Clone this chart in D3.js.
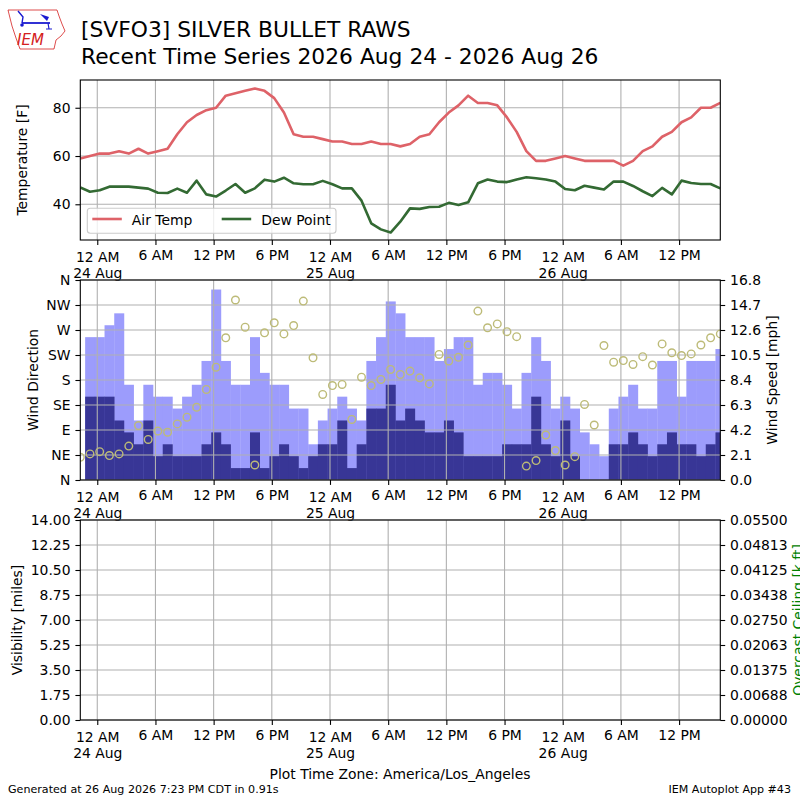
<!DOCTYPE html>
<html>
<head>
<meta charset="utf-8">
<script src="https://cdn.jsdelivr.net/npm/d3@7"></script>
<style>
  body { margin: 0; background: #fff; }
  svg { display: block; }
  text { font-family: "DejaVu Sans", sans-serif; }
</style>
</head>
<body>
<div id="chart"></div>
<script>
// observations: hourly, first one at 23 Aug 22:15 (plot time zone)
var obsStart = Date.UTC(2026, 7, 23, 22, 15);

var airTemp = [59,60,61,61,62,61,63,61,62,63, 69,74,77,79,80,85,86,87,88,87,
               84,78,69,68,68,67,66,66,65,65, 66,65,65,64,65,68,69,74,78,81,
               85,82,82,81,76,70,62,58,58,59, 60,59,58,58,58,58,56,58,62,64,
               68,70,74,76,80,80,82];
var dewPoint = [47.0,45.2,45.8,47.3,47.3,47.3,46.9,46.5,44.8,44.7, 46.5,44.8,49.8,44.1,43.2,45.7,48.4,44.8,46.6,50.2,
                49.4,51.0,48.7,48.3,48.3,49.7,48.3,46.6,46.6,41.5, 32.1,29.6,28.3,32.8,38.3,38.1,38.9,39.0,40.6,39.7,
                40.8,48.7,50.3,49.4,49.2,50.3,51.2,50.8,50.3,49.4, 46.3,45.8,47.7,46.9,46.1,49.4,49.4,47.6,45.4,43.4,
                46.8,44.1,49.8,48.8,48.4,48.4,46.6];
var windDir = [41,47,51,44,47,61,98,73,88,86, 101,113,131,163,203,256,324,275,27,265,
               283,263,278,322,220,154,170,172,109,185, 170,181,199,190,196,184,173,226,214,221,
               243,304,274,281,267,258,25,35,81,53, 27,42,136,99,242,212,215,208,222,207,
               245,229,224,227,243,256,263];
var windGust = [0,12,12,13,14,8,5,8,7,7, 6,7,8,10,16,10,8,8,12,9,
                8,8,6,6,3,5,6,7,6,5, 10,12,15,14,12,12,12,10,11,12,
                12,8,9,9,8,6,9,12,10,6, 7,6,4,3,2,6,7,8,6,6,
                10,10,7,10,10,10,11];
var windSpeed = [0,7,7,7,5,4,3,5,2,3, 2,2,2,3,4,3,1,1,4,1,
                 2,3,2,1,2,3,3,5,1,3, 6,6,8,5,6,5,4,4,5,4,
                 2,2,2,2,3,3,3,7,3,2, 5,2,0,0,0,3,3,4,3,2,
                 3,4,3,3,2,3,4];

var tempTicks = [40, 60, 80];
var dirTicks = [0, 45, 90, 135, 180, 225, 270, 315, 360];
var dirLabels = ["N","NE","E","SE","S","SW","W","NW","N"];
var speedTicks = [0, 2.1, 4.2, 6.3, 8.4, 10.5, 12.6, 14.7, 16.8];
var visTicks = [0, 1.75, 3.5, 5.25, 7, 8.75, 10.5, 12.25, 14];
var ceilTicks = [0, 0.006875, 0.01375, 0.020625, 0.0275, 0.034375, 0.04125, 0.048125, 0.055];
var ceilLabels = ["0.00000","0.00688","0.01375","0.02063","0.02750","0.03438","0.04125","0.04813","0.05500"];

var HOUR = 3600e3;
var times = airTemp.map(function(d, i) { return new Date(obsStart + i * HOUR); });
var rows = times.map(function(t, i) {
  return {t: t, temp: airTemp[i], dwpf: dewPoint[i], drct: windDir[i], gust: windGust[i], sknt: windSpeed[i]};
});
var xTicks = d3.utcHour.every(6).range(new Date(Date.UTC(2026, 7, 24)), new Date(Date.UTC(2026, 7, 26, 13)));

var svgWidth = 800, svgHeight = 800;
var left = 80.3, right = 720.3;
var fs = 13.9;
var gridColor = "#b0b0b0";

var svg = d3.select("#chart").append("svg")
  .attr("width", svgWidth)
  .attr("height", svgHeight);

var x = d3.scaleUtc()
  .domain([times[0], times[times.length - 1]])
  .range([left, right]);

function hourLabel(d) {
  var h = d.getUTCHours();
  if (h === 0) return "12 AM";
  if (h === 12) return "12 PM";
  return (h % 12) + (h < 12 ? " AM" : " PM");
}
var dayLabel = d3.utcFormat("%-d %b");

function clip(id, y0, y1) {
  svg.append("clipPath").attr("id", id)
    .append("rect").attr("x", left).attr("y", y0).attr("width", right - left).attr("height", y1 - y0);
}

function styleAxis(g) {
  g.select(".domain").remove();
  g.selectAll(".tick line").attr("stroke", "#000").attr("stroke-width", 1.1);
  g.selectAll(".tick text").attr("font-size", fs).attr("fill", "#000")
    .attr("font-family", "DejaVu Sans");
  g.attr("font-family", null).attr("font-size", null);
}

function xGrid(y0, y1) {
  svg.append("g").selectAll("line").data(xTicks).enter().append("line")
    .attr("x1", function(d) { return x(d); }).attr("x2", function(d) { return x(d); })
    .attr("y1", y0).attr("y2", y1)
    .attr("stroke", gridColor).attr("stroke-width", 1.1);
}

function yGrid(scale, vals) {
  svg.append("g").selectAll("line").data(vals).enter().append("line")
    .attr("x1", left).attr("x2", right)
    .attr("y1", function(d) { return scale(d); }).attr("y2", function(d) { return scale(d); })
    .attr("stroke", gridColor).attr("stroke-width", 1.1);
}

function xAxis(y1) {
  var g = svg.append("g")
    .attr("transform", "translate(0," + y1 + ")")
    .call(d3.axisBottom(x).tickValues(xTicks).tickFormat(hourLabel)
      .tickSize(4.9).tickPadding(4.9).tickSizeOuter(0));
  styleAxis(g);
  g.selectAll(".tick text").each(function(d) {
    if (d.getUTCHours() !== 0) return;
    var t = d3.select(this).text(null).attr("dy", null).attr("y", 21.5);
    t.append("tspan").attr("x", 0).text("12 AM");
    t.append("tspan").attr("x", 0).attr("dy", 16.5).text(dayLabel(d));
  });
}

function frame(y0, y1) {
  svg.append("rect")
    .attr("x", left).attr("y", y0).attr("width", right - left).attr("height", y1 - y0)
    .attr("fill", "none").attr("stroke", "#000").attr("stroke-width", 1.1);
}

function yLabel(txt, cx, cy, color) {
  svg.append("text")
    .attr("transform", "translate(" + cx + "," + cy + ") rotate(-90)")
    .attr("text-anchor", "middle")
    .attr("font-size", fs)
    .attr("fill", color || "#000")
    .text(txt);
}

// ---------- Panel 1: temperature ----------
var p1 = {y0: 80, y1: 240};
var yTemp = d3.scaleLinear().domain([25.2, 91.5]).range([p1.y1, p1.y0]);
clip("clip1", p1.y0, p1.y1);
xGrid(p1.y0, p1.y1);
yGrid(yTemp, tempTicks);

var p1g = svg.append("g").attr("clip-path", "url(#clip1)");
p1g.append("path").datum(rows)
  .attr("d", d3.line().x(function(d) { return x(d.t); }).y(function(d) { return yTemp(d.temp); }))
  .attr("fill", "none").attr("stroke", "#de6268").attr("stroke-width", 2.6)
  .attr("stroke-linejoin", "round");
p1g.append("path").datum(rows)
  .attr("d", d3.line().x(function(d) { return x(d.t); }).y(function(d) { return yTemp(d.dwpf); }))
  .attr("fill", "none").attr("stroke", "#336a33").attr("stroke-width", 2.6)
  .attr("stroke-linejoin", "round");

var gT = svg.append("g").attr("transform", "translate(" + left + ",0)")
  .call(d3.axisLeft(yTemp).tickValues(tempTicks).tickSize(4.9).tickPadding(4.9));
styleAxis(gT);
xAxis(p1.y1);
frame(p1.y0, p1.y1);
yLabel("Temperature [F]", 27, (p1.y0 + p1.y1) / 2);

// legend
var leg = svg.append("g");
leg.append("rect").attr("x", 87.3).attr("y", 208.3).attr("width", 248.7).attr("height", 25)
  .attr("rx", 3).attr("fill", "#fff").attr("fill-opacity", 0.8)
  .attr("stroke", "#cccccc").attr("stroke-width", 1.1);
var legItems = [
  {name: "Air Temp", color: "#de6268", x: 92.3},
  {name: "Dew Point", color: "#336a33", x: 221.7}
];
legItems.forEach(function(it) {
  leg.append("line").attr("x1", it.x).attr("x2", it.x + 29.5).attr("y1", 219).attr("y2", 219)
    .attr("stroke", it.color).attr("stroke-width", 2.6);
  leg.append("text").attr("x", it.x + 39.5).attr("y", 225).attr("font-size", fs).text(it.name);
});

// ---------- Panel 2: wind ----------
var p2 = {y0: 280, y1: 480};
var yDir = d3.scaleLinear().domain([0, 360]).range([p2.y1, p2.y0]);
var ySpd = d3.scaleLinear().domain([0, 16.8]).range([p2.y1, p2.y0]);
clip("clip2", p2.y0, p2.y1);
var barW = x(new Date(obsStart + HOUR)) - x(new Date(obsStart));

var p2g = svg.append("g").attr("clip-path", "url(#clip2)");
p2g.selectAll(".gust").data(rows).enter().append("rect")
  .attr("x", function(d) { return x(d.t) - barW / 2; })
  .attr("width", barW + 0.3)
  .attr("y", function(d) { return ySpd(d.gust); })
  .attr("height", function(d) { return ySpd(0) - ySpd(d.gust); })
  .attr("fill", "#9c9cfc");
p2g.selectAll(".sknt").data(rows).enter().append("rect")
  .attr("x", function(d) { return x(d.t) - barW / 2; })
  .attr("width", barW + 0.3)
  .attr("y", function(d) { return ySpd(d.sknt); })
  .attr("height", function(d) { return ySpd(0) - ySpd(d.sknt); })
  .attr("fill", "#383696");

xGrid(p2.y0, p2.y1);
yGrid(yDir, dirTicks);

svg.append("g").attr("clip-path", "url(#clip2)")
  .selectAll("circle").data(rows).enter().append("circle")
  .attr("cx", function(d) { return x(d.t); })
  .attr("cy", function(d) { return yDir(d.drct); })
  .attr("r", 3.8)
  .attr("fill", "none").attr("stroke", "#bdbb78").attr("stroke-width", 1.4);

var gD = svg.append("g").attr("transform", "translate(" + left + ",0)")
  .call(d3.axisLeft(yDir).tickValues(dirTicks)
    .tickFormat(function(d, i) { return dirLabels[i]; })
    .tickSize(4.9).tickPadding(4.9));
styleAxis(gD);
var gS = svg.append("g").attr("transform", "translate(" + right + ",0)")
  .call(d3.axisRight(ySpd).tickValues(speedTicks).tickFormat(d3.format(".1f"))
    .tickSize(4.9).tickPadding(4.9));
styleAxis(gS);
xAxis(p2.y1);
frame(p2.y0, p2.y1);
yLabel("Wind Direction", 38, (p2.y0 + p2.y1) / 2);
yLabel("Wind Speed [mph]", 777, (p2.y0 + p2.y1) / 2);

// ---------- Panel 3: visibility / ceiling (no data) ----------
var p3 = {y0: 520, y1: 720};
var yVis = d3.scaleLinear().domain([0, 14]).range([p3.y1, p3.y0]);
var yCeil = d3.scaleLinear().domain([0, 0.055]).range([p3.y1, p3.y0]);
xGrid(p3.y0, p3.y1);
yGrid(yVis, visTicks);
var gV = svg.append("g").attr("transform", "translate(" + left + ",0)")
  .call(d3.axisLeft(yVis).tickValues(visTicks).tickFormat(d3.format(".2f"))
    .tickSize(4.9).tickPadding(4.9));
styleAxis(gV);
var gC = svg.append("g").attr("transform", "translate(" + right + ",0)")
  .call(d3.axisRight(yCeil).tickValues(ceilTicks)
    .tickFormat(function(d, i) { return ceilLabels[i]; })
    .tickSize(4.9).tickPadding(4.9));
styleAxis(gC);
xAxis(p3.y1);
frame(p3.y0, p3.y1);
yLabel("Visibility [miles]", 22, (p3.y0 + p3.y1) / 2);
// the reference lets this label run off the right edge
yLabel("Overcast Ceiling [k ft]", 803, (p3.y0 + p3.y1) / 2, "#008000");

// ---------- titles and footer ----------
svg.append("text").attr("x", 81).attr("y", 37).attr("font-size", 21.8)
  .text("[SVFO3] SILVER BULLET RAWS");
svg.append("text").attr("x", 81).attr("y", 64).attr("font-size", 21.8)
  .text("Recent Time Series 2026 Aug 24 - 2026 Aug 26");
svg.append("text").attr("x", 400).attr("y", 779).attr("text-anchor", "middle")
  .attr("font-size", fs).text("Plot Time Zone: America/Los_Angeles");
svg.append("text").attr("x", 8).attr("y", 793).attr("font-size", 11.1)
  .text("Generated at 26 Aug 2026 7:23 PM CDT in 0.91s");
svg.append("text").attr("x", 791).attr("y", 793).attr("text-anchor", "end")
  .attr("font-size", 11.1).text("IEM Autoplot App #43");

// IEM logo (rough)
var logo = svg.append("g");
logo.append("path")
  .attr("d", "M8,10 L57,10 L59,16 L62,24 L65,31 L61,36 L56,40 L54,49 L20,49 L16,38 L12,26 Z")
  .attr("fill", "none").attr("stroke", "#d42020").attr("stroke-width", 0.8);
logo.append("line").attr("x1", 22).attr("x2", 50).attr("y1", 23).attr("y2", 23)
  .attr("stroke", "#1a1ad0").attr("stroke-width", 1.8);
logo.append("path").attr("d", "M18,11 L23,17 L22,23").attr("fill", "none")
  .attr("stroke", "#1a1ad0").attr("stroke-width", 1.4);
logo.append("path").attr("d", "M40,14 L49,17 L47,21 Z").attr("fill", "#1a1ad0");
logo.append("path").attr("d", "M48,23 L49,29 M46,29 L52,29").attr("stroke", "#1a1ad0").attr("stroke-width", 1.2);
logo.append("circle").attr("cx", 22).attr("cy", 25).attr("r", 1.8).attr("fill", "#1a1ad0");
logo.append("text").attr("x", 17).attr("y", 45).attr("font-size", 15)
  .attr("font-family", "Liberation Serif").attr("font-style", "italic")
  .attr("fill", "#d42020").text("IEM");
</script>
</body>
</html>
